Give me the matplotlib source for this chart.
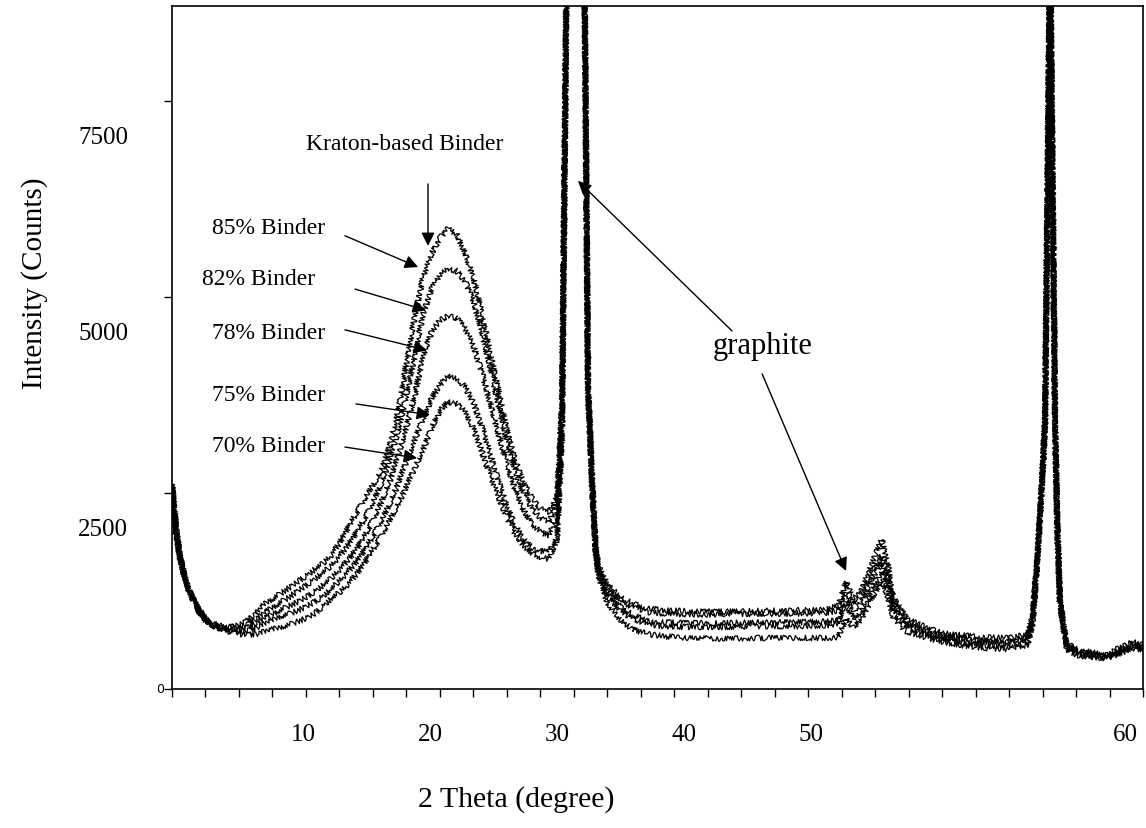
# XRD patterns of Kraton-based binder / graphite composites
# -----------------------------------------------------------
import numpy as np
import matplotlib
matplotlib.use('Agg')
import matplotlib.pyplot as plt

# 2 Theta (degree) sample points
two_theta = [2.0, 2.25, 2.5, 3.0, 3.5, 4.0, 4.5, 5.0, 5.5, 6.0,
             6.5, 7.0, 7.5, 8.0, 8.5, 9.0, 9.5, 10.0, 10.5, 11.0,
             11.5, 12.0, 12.5, 13.0, 13.5, 14.0, 14.5, 15.0, 15.5, 16.0,
             16.5, 17.0, 17.5, 18.0, 18.5, 19.0, 19.5, 20.0, 20.5, 21.0,
             21.5, 22.0, 22.5, 23.0, 23.5, 24.0, 24.5, 25.0, 25.3, 25.55,
             26.1, 26.65, 26.85, 27.1, 27.3, 27.45, 28.0, 28.8, 29.5, 30.4,
             31.5, 33.0, 35.0, 37.0, 39.0, 41.0, 41.8, 42.26, 42.7, 43.2,
             43.8, 44.4, 44.8, 45.1, 45.9, 47.0, 48.0, 50.3, 51.9, 53.1,
             53.4, 53.7, 54.0, 54.15, 54.45, 54.75, 54.87, 55.05, 55.45, 56.2,
             57.85, 59.4, 60.0]

# Intensity (Counts) per binder content
binder85 = [2650, 2050, 1660, 1270, 1050, 900, 830, 800, 790, 810,
            870, 960, 1080, 1150, 1220, 1290, 1370, 1440, 1520, 1600,
            1700, 1860, 2050, 2240, 2420, 2600, 2780, 3100, 3530, 4150,
            4750, 5250, 5550, 5750, 5870, 5800, 5560, 5250, 4800, 4300,
            3800, 3300, 2920, 2620, 2440, 2300, 2260, 2460, 3700, 8800,
            20000, 8800, 3950, 2680, 1850, 1580, 1330, 1170, 1090, 1030,
            1000, 990, 985, 995, 1000, 1010, 1060, 1365, 1150, 1260,
            1600, 1910, 1550, 1160, 890, 790, 710, 660, 650, 690,
            920, 1750, 2800, 3440, 9500, 3440, 2170, 1110, 580, 490,
            440, 610, 570]
binder82 = [2600, 2000, 1640, 1250, 1030, 880, 810, 780, 765, 780,
            820, 890, 970, 1040, 1110, 1170, 1250, 1320, 1400, 1480,
            1570, 1690, 1830, 1990, 2170, 2380, 2620, 2920, 3280, 3750,
            4250, 4780, 5100, 5280, 5360, 5330, 5200, 4950, 4560, 4100,
            3620, 3150, 2780, 2490, 2300, 2180, 2130, 2350, 3600, 8800,
            20000, 8800, 3900, 2650, 1820, 1550, 1290, 1120, 1040, 980,
            960, 950, 950, 960, 960, 970, 1000, 1220, 1080, 1180,
            1480, 1700, 1430, 1100, 850, 760, 680, 620, 610, 650,
            880, 1720, 2780, 3420, 9500, 3420, 2150, 1090, 560, 470,
            420, 580, 540]
binder78 = [2620, 2020, 1650, 1260, 1040, 890, 820, 780, 750, 750,
            780, 830, 900, 960, 1010, 1060, 1110, 1170, 1240, 1320,
            1410, 1520, 1640, 1780, 1950, 2150, 2380, 2650, 2970, 3340,
            3750, 4250, 4550, 4700, 4760, 4730, 4600, 4380, 4040, 3650,
            3250, 2870, 2540, 2280, 2100, 2000, 1960, 2180, 3500, 8800,
            20000, 8800, 3900, 2600, 1780, 1520, 1230, 1040, 950, 860,
            850, 840, 840, 850, 850, 860, 880, 1130, 1000, 1100,
            1400, 1620, 1360, 1050, 820, 730, 660, 600, 590, 630,
            860, 1700, 2760, 3400, 9500, 3400, 2130, 1070, 540, 450,
            410, 560, 530]
binder75 = [2580, 1980, 1620, 1240, 1020, 870, 800, 760, 730, 720,
            740, 780, 830, 880, 930, 960, 1000, 1050, 1110, 1180,
            1270, 1380, 1490, 1620, 1770, 1950, 2140, 2360, 2620, 2900,
            3180, 3450, 3700, 3880, 3990, 3960, 3850, 3650, 3350, 3000,
            2650, 2330, 2090, 1910, 1800, 1760, 1750, 1950, 3300, 8800,
            20000, 8800, 3850, 2550, 1760, 1490, 1190, 1000, 900, 820,
            800, 790, 790, 800, 800, 810, 830, 1080, 900, 1000,
            1280, 1500, 1250, 980, 780, 700, 640, 560, 550, 600,
            840, 1680, 2740, 3380, 9500, 3380, 2110, 1050, 520, 440,
            400, 540, 520]
binder70 = [2600, 2000, 1630, 1250, 1030, 880, 800, 760, 720, 700,
            690, 700, 730, 760, 790, 820, 860, 900, 960, 1050,
            1150, 1230, 1330, 1460, 1610, 1780, 1950, 2150, 2360, 2580,
            2820, 3050, 3330, 3550, 3660, 3640, 3540, 3320, 3030, 2720,
            2450, 2180, 1980, 1830, 1730, 1680, 1660, 1900, 3200, 8800,
            20000, 8800, 3800, 2500, 1740, 1460, 1100, 880, 760, 700,
            670, 650, 640, 650, 650, 650, 660, 900, 780, 900,
            1150, 1400, 1150, 900, 730, 660, 600, 520, 510, 560,
            820, 1650, 2720, 3360, 9500, 3360, 2090, 1030, 500, 420,
            390, 520, 500]

series = [binder85, binder82, binder78, binder75, binder70]
binder_labels = ['85% Binder', '82% Binder', '78% Binder', '75% Binder', '70% Binder']

y_ticks = [0, 2500, 5000, 7500]
x_tick_labels = ['10', '20', '30', '40', '50', '60']

# layout (label placement as in the original, labels do not sit on the ticks)
x_label_pos = [9.83, 17.41, 25.0, 32.59, 40.17, 58.93]

serif = ['Liberation Serif', 'DejaVu Serif']
plt.rcParams['font.family'] = serif

fig = plt.figure(figsize=(11.46, 8.29), dpi=100)
ax = fig.add_axes([0.1501, 0.1677, 0.8473, 0.8239])

for s in series:
    ln, = ax.plot(two_theta, s, color='black', linewidth=0.9)
    # counting noise look
    ln.set_sketch_params(scale=2.8, length=2, randomness=4)

ax.set_xlim(2, 60)
ax.set_ylim(0, 8710)

# ticks: every 2 degree on x, no labels on the ticks themselves
ax.set_xticks(np.arange(2, 61, 2))
ax.set_xticklabels([])
ax.set_yticks(y_ticks)
ax.set_yticklabels([])
ax.tick_params(direction='out', length=6, width=1, color='black')
for sp in ax.spines.values():
    sp.set_linewidth(1.2)

# tick labels drawn where they sit in the original
for lab, pos in zip(x_tick_labels, x_label_pos):
    ax.annotate(lab, xy=(pos, 0), xycoords=('data', 'axes fraction'),
                xytext=(0, -45), textcoords='offset pixels',
                ha='center', va='center', fontsize=18)
for v in y_ticks[1:]:
    ax.annotate(str(v), xy=(0, v), xycoords=('axes fraction', 'data'),
                xytext=(-44, -36), textcoords='offset pixels',
                ha='right', va='center', fontsize=18)
ax.annotate('0', xy=(0, 0), xycoords=('axes fraction', 'data'),
            xytext=(-8, 0), textcoords='offset pixels',
            ha='right', va='center', fontsize=9, family='DejaVu Sans')

fig.text(35 / 1146, 1 - 283 / 829, 'Intensity (Counts)', rotation=90,
         ha='center', va='center', fontsize=21)
fig.text(516 / 1146, 1 - 800 / 829, '2 Theta (degree)',
         ha='center', va='center', fontsize=21.5)

arrow = dict(arrowstyle='-|>', mutation_scale=20, lw=1.0, color='black',
             shrinkA=0, shrinkB=0)

# binder labels with arrows
ax.text(15.92, 6950, 'Kraton-based Binder', ha='center', va='center', fontsize=17)
ax.annotate('', xy=(17.29, 5650), xytext=(17.29, 6440), arrowprops=arrow)

label_xy = [(4.39, 5890), (3.79, 5230), (4.39, 4550), (4.39, 3760), (4.39, 3100)]
arrow_from = [(12.33, 5780), (12.93, 5100), (12.33, 4580), (12.99, 3635), (12.33, 3085)]
arrow_to = [(16.70, 5380), (17.17, 4830), (17.23, 4320), (17.41, 3495), (16.64, 2945)]
for lab, (tx, ty), a, b in zip(binder_labels, label_xy, arrow_from, arrow_to):
    ax.text(tx, ty, lab, ha='left', va='center', fontsize=17)
    ax.annotate('', xy=b, xytext=a, arrowprops=arrow)

# graphite peaks
ax.text(37.30, 4375, 'graphite', ha='center', va='center', fontsize=22)
ax.annotate('', xy=(26.25, 6480), xytext=(35.45, 4566), arrowprops=arrow)
ax.annotate('', xy=(42.26, 1505), xytext=(37.25, 4018), arrowprops=arrow)

fig.savefig('out.png', dpi=100)
